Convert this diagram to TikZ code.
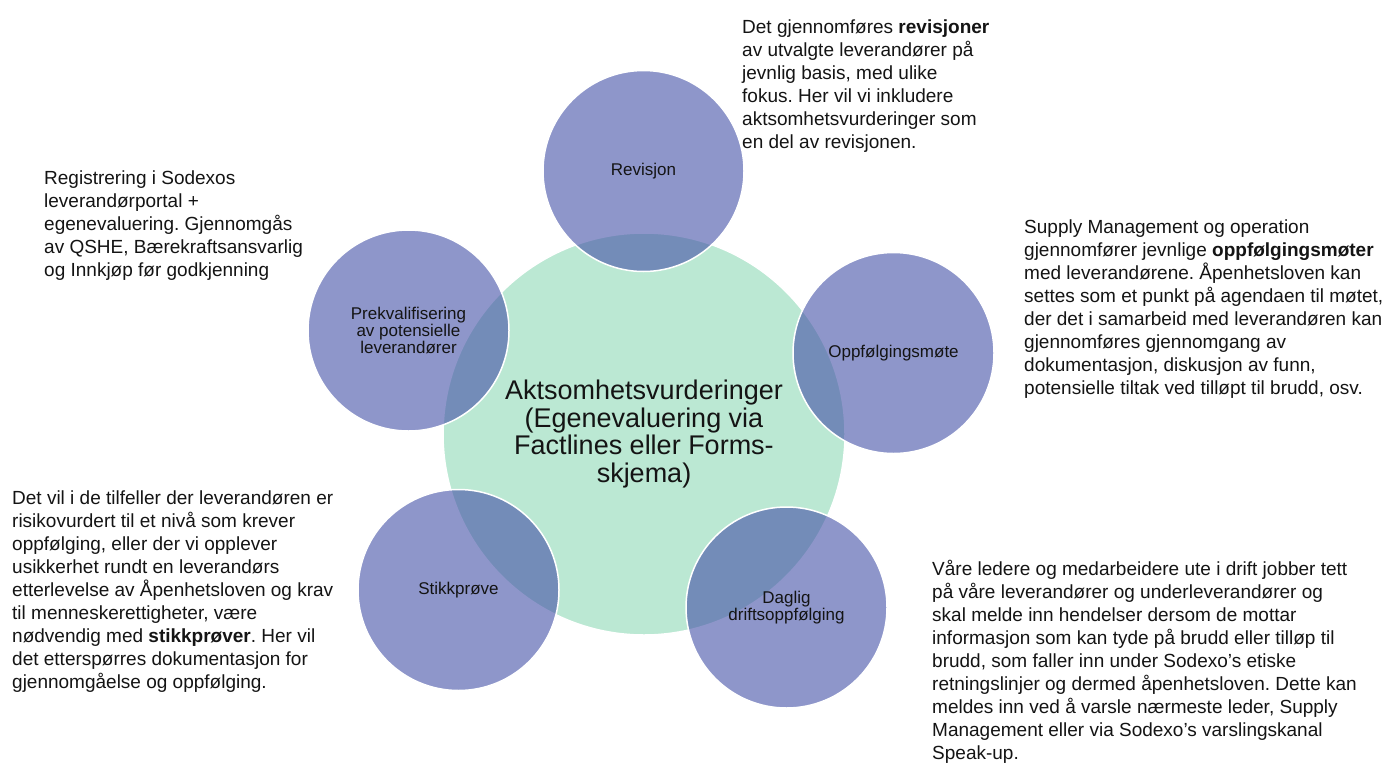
\documentclass[tikz,border=0pt]{standalone}
\usepackage{fontspec}
\setmainfont{Liberation Sans}
\frenchspacing
\definecolor{gfill}{RGB}{187,232,211}
\definecolor{pfill}{RGB}{68,80,167}
\definecolor{ink}{RGB}{20,20,20}
\begin{document}
\frenchspacing
\begin{tikzpicture}[x=1pt,y=-1pt,
  hub/.style={circle, fill=gfill, draw=white, line width=1.5pt, minimum size=402pt, inner sep=0pt,
    font=\fontsize{27}{27.7}\selectfont, align=center, text=ink},
  sat/.style={circle, fill=pfill, fill opacity=0.6, text opacity=1, draw=white, draw opacity=1,
    line width=1.5pt, minimum size=201pt, inner sep=0pt, font=\fontsize{17}{17.3}\selectfont,
    align=center, text=ink},
  note/.style={anchor=north west, inner sep=0pt, align=left, text=ink,
    font=\fontsize{19}{23}\selectfont\frenchspacing, execute at begin node={\rule{0pt}{15pt}}}]
\fill[white] (0,0) rectangle (1391,763);
\useasboundingbox (0,0) rectangle (1391,763);

\node[hub] (hub) at (644,434) {Aktsomhetsvurderinger\\(Egenevaluering via\\Factlines eller Forms-\\skjema)};

\node[sat] (rev) at (643.5,171) {Revisjon};
\node[sat] (opp) at (893.5,353) {Oppfølgingsmøte};
\node[sat] (dag) at (786.5,607.5) {Daglig\\driftsoppfølging};
\node[sat] (sti) at (458.5,590) {Stikkprøve};
\node[sat] (pre) at (408.5,330.5) {Prekvalifisering\\av potensielle\\leverandører};

\node[note] (revtext) at (742,20) {Det gjennomføres \textbf{revisjoner}\\av utvalgte leverandører på\\jevnlig basis, med ulike\\fokus. Her vil vi inkludere\\aktsomhetsvurderinger som\\en del av revisjonen.};

\node[note] (pretext) at (44,171) {Registrering i Sodexos\\leverandørportal +\\egenevaluering. Gjennomgås\\av QSHE, Bærekraftsansvarlig\\og Innkjøp før godkjenning};

\node[note] (opptext) at (1024,220) {Supply Management og operation\\gjennomfører jevnlige \textbf{oppfølgingsmøter}\\med leverandørene. Åpenhetsloven kan\\settes som et punkt på agendaen til møtet,\\der det i samarbeid med leverandøren kan\\gjennomføres gjennomgang av\\dokumentasjon, diskusjon av funn,\\potensielle tiltak ved tilløpt til brudd, osv.};

\node[note] (stitext) at (12,491) {Det vil i de tilfeller der leverandøren er\\risikovurdert til et nivå som krever\\oppfølging, eller der vi opplever\\usikkerhet rundt en leverandørs\\etterlevelse av Åpenhetsloven og krav\\til menneskerettigheter, være\\nødvendig med \textbf{stikkprøver}. Her vil\\det etterspørres dokumentasjon for\\gjennomgåelse og oppfølging.};

\node[note] (dagtext) at (932,560) {Våre ledere og medarbeidere ute i drift jobber tett\\på våre leverandører og underleverandører og\\skal melde inn hendelser dersom de mottar\\informasjon som kan tyde på brudd eller tilløp til\\brudd, som faller inn under Sodexo’s etiske\\retningslinjer og dermed åpenhetsloven. Dette kan\\meldes inn ved å varsle nærmeste leder, Supply\\Management eller via Sodexo’s varslingskanal\\Speak-up.};
\end{tikzpicture}
\end{document}
